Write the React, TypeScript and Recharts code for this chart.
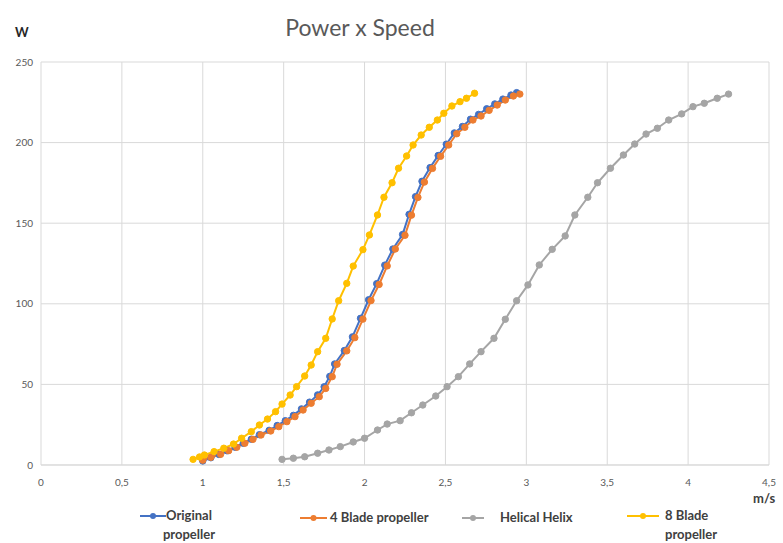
import { LineChart, Line, XAxis, YAxis, CartesianGrid } from "recharts";

// speed (m/s) and power (W), one pair of arrays per series
const originalSpeed = [1.0, 1.05, 1.1, 1.15, 1.2, 1.25, 1.3, 1.35, 1.41, 1.46, 1.51, 1.56, 1.61, 1.66, 1.71, 1.75, 1.785, 1.815, 1.875, 1.925, 1.975, 2.025, 2.075, 2.125, 2.175, 2.235, 2.275, 2.315, 2.355, 2.405, 2.455, 2.505, 2.555, 2.605, 2.655, 2.705, 2.755, 2.805, 2.855, 2.905, 2.94];
const originalPower = [2.5, 4.5, 6.5, 8.8, 11, 13.5, 16, 18.8, 21.5, 24.5, 27.5, 30.8, 34.8, 39, 43.5, 48.5, 55, 62.7, 71, 79.5, 91, 102.5, 112.5, 124, 134, 143, 155.5, 166.5, 176, 184.5, 192, 199, 206, 210, 214.5, 217.5, 221, 224, 227, 229.5, 231];

const blade4Speed = [1.0, 1.05, 1.11, 1.16, 1.21, 1.26, 1.31, 1.36, 1.42, 1.47, 1.52, 1.57, 1.62, 1.67, 1.72, 1.76, 1.8, 1.83, 1.89, 1.94, 1.99, 2.04, 2.09, 2.14, 2.19, 2.25, 2.29, 2.33, 2.37, 2.42, 2.47, 2.52, 2.57, 2.62, 2.67, 2.72, 2.77, 2.82, 2.87, 2.92, 2.96];
const blade4Power = [3, 4.8, 6.6, 8.9, 11, 13.5, 15.9, 18.6, 21.1, 23.8, 26.9, 30, 34.1, 38.3, 42.4, 47.5, 54.8, 62.5, 70.8, 79, 90.5, 102, 112, 123.5, 134, 142.5, 155, 166, 175.5, 184, 191.5, 198.5, 205.5, 209.5, 214, 216.5, 220, 223.3, 226.4, 228.9, 230.1];

const helixSpeed = [1.49, 1.56, 1.63, 1.71, 1.78, 1.85, 1.93, 2.0, 2.08, 2.14, 2.22, 2.29, 2.36, 2.44, 2.51, 2.58, 2.65, 2.72, 2.8, 2.87, 2.94, 3.01, 3.08, 3.16, 3.24, 3.3, 3.38, 3.44, 3.52, 3.6, 3.67, 3.74, 3.81, 3.88, 3.96, 4.03, 4.1, 4.18, 4.25];
const helixPower = [3.5, 4.2, 5.1, 7.3, 9.3, 11.4, 14.3, 16.6, 21.7, 25.4, 27.5, 32.4, 37.2, 42.8, 48.6, 54.8, 62.7, 70.3, 78.6, 90.4, 101.9, 111.7, 124.1, 133.8, 142.1, 155.1, 166.1, 175.1, 184.1, 192.3, 199.1, 205.3, 208.9, 214, 217.8, 222.3, 224.4, 227.5, 230.1];

const blade8Speed = [0.94, 0.98, 1.01, 1.07, 1.13, 1.19, 1.24, 1.3, 1.35, 1.4, 1.45, 1.49, 1.54, 1.58, 1.63, 1.67, 1.71, 1.76, 1.8, 1.84, 1.89, 1.93, 1.99, 2.03, 2.08, 2.12, 2.17, 2.21, 2.26, 2.3, 2.35, 2.4, 2.45, 2.49, 2.54, 2.59, 2.63, 2.68];
const blade8Power = [3.5, 5, 6.2, 8.3, 10.4, 13, 16.6, 20.7, 24.8, 28.5, 33.1, 37.8, 43.4, 48.6, 55.2, 62, 70.3, 78.6, 90.6, 101.9, 112.7, 123.4, 133.6, 142.7, 155.1, 166.1, 175.1, 184.1, 191.7, 198.5, 204.7, 209.5, 214, 218.2, 222.7, 225.4, 227.5, 230.6];

const xTicks = [0, 0.5, 1, 1.5, 2, 2.5, 3, 3.5, 4, 4.5];
const yTicks = [0, 50, 100, 150, 200, 250];

const toPoints = (xs: number[], ys: number[]) => xs.map((x, i) => ({ x, y: ys[i] }));

const series = [
  { name: "Original propeller", color: "#4472C4", data: toPoints(originalSpeed, originalPower) },
  { name: "4 Blade propeller", color: "#ED7D31", data: toPoints(blade4Speed, blade4Power) },
  { name: "Helical Helix", color: "#A5A5A5", data: toPoints(helixSpeed, helixPower) },
  { name: "8 Blade propeller", color: "#FFC000", data: toPoints(blade8Speed, blade8Power) },
];

const FONT = "Lato, 'Open Sans', sans-serif";

function Marker({ color, left, top, width }: { color: string; left: number; top: number; width: number }) {
  return (
    <svg style={{ position: "absolute", left, top: top - 5 }} width={width} height={10}>
      <line x1={0} y1={5} x2={width} y2={5} stroke={color} strokeWidth={2} />
      <circle cx={width / 2} cy={5} r={3} fill={color} />
    </svg>
  );
}

const legendText: React.CSSProperties = {
  position: "absolute",
  fontFamily: FONT,
  fontWeight: 700,
  fontSize: 13,
  color: "#404040",
  lineHeight: "19px",
  whiteSpace: "nowrap",
};

export default function App() {
  return (
    <div style={{ position: "absolute", left: 0, top: 0, width: 783, height: 543, background: "#fff", fontFamily: FONT }}>
      <div style={{ position: "absolute", left: 0, width: 720, top: 13, textAlign: "center", fontSize: 23, color: "#595959" }}>
        Power x Speed
      </div>
      <div style={{ position: "absolute", left: 15, top: 24, fontSize: 13, fontWeight: 700, color: "#262626" }}>W</div>
      <div style={{ position: "absolute", left: 753, top: 490, fontSize: 13, fontWeight: 700, color: "#404040" }}>m/s</div>

      <LineChart width={783} height={543} margin={{ top: 62, right: 14, left: 0, bottom: 0 }}>
        <CartesianGrid stroke="#d9d9d9" />
        <XAxis
          type="number"
          dataKey="x"
          domain={[0, 4.5]}
          ticks={xTicks}
          tickFormatter={(v) => String(v).replace(".", ",")}
          height={78}
          axisLine={{ stroke: "#d9d9d9" }}
          tickLine={false}
          tickMargin={8}
          tick={{ fontSize: 10, fill: "#595959", fontFamily: FONT }}
          allowDuplicatedCategory={false}
        />
        <YAxis
          type="number"
          dataKey="y"
          domain={[0, 250]}
          ticks={yTicks}
          width={41}
          axisLine={false}
          tickLine={false}
          tick={{ fontSize: 10, fill: "#595959", fontFamily: FONT }}
        />
        {series.map((s) => (
          <Line
            key={s.name}
            data={s.data}
            dataKey="y"
            name={s.name}
            type="linear"
            stroke={s.color}
            strokeWidth={2}
            dot={{ r: 3.2, fill: s.color, stroke: s.color, strokeWidth: 1 }}
            isAnimationActive={false}
          />
        ))}
      </LineChart>

      <Marker color="#4472C4" left={140} top={516} width={26} />
      <div style={{ ...legendText, left: 152, top: 506, width: 74, textAlign: "center" }}>
        Original
        <br />
        propeller
      </div>

      <Marker color="#ED7D31" left={300} top={518} width={27} />
      <div style={{ ...legendText, left: 330, top: 508 }}>4 Blade propeller</div>

      <Marker color="#A5A5A5" left={462} top={518} width={22} />
      <div style={{ ...legendText, left: 500, top: 508 }}>Helical Helix</div>

      <Marker color="#FFC000" left={627} top={516} width={32} />
      <div style={{ ...legendText, left: 665, top: 506 }}>
        8 Blade
        <br />
        propeller
      </div>
    </div>
  );
}
